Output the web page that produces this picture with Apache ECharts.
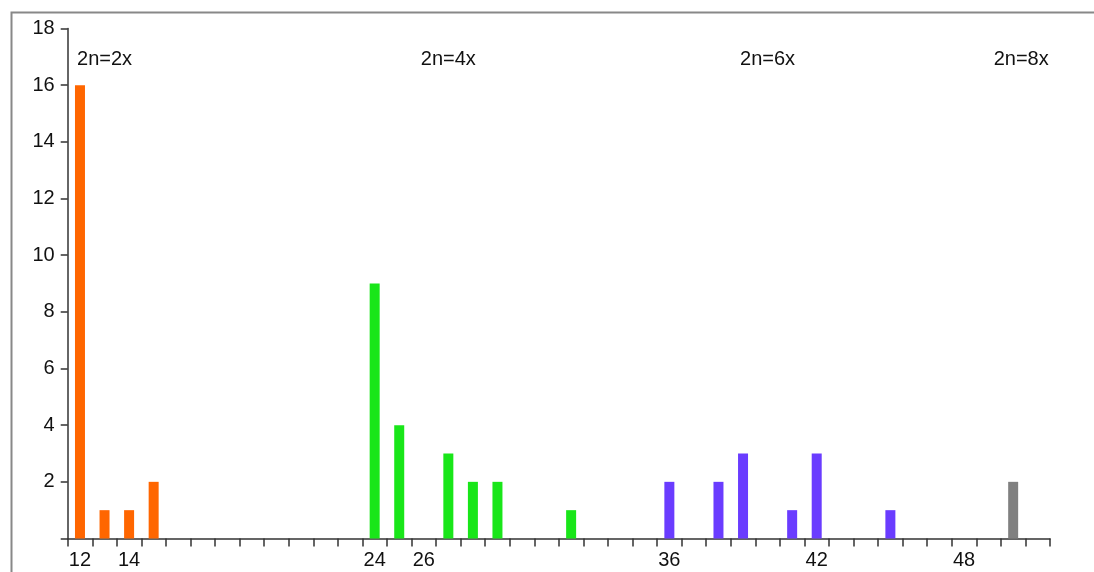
<!DOCTYPE html>
<html>
<head>
<meta charset="utf-8">
<script src="https://cdn.jsdelivr.net/npm/echarts@6/dist/echarts.min.js"></script>
<style>
  html, body { margin: 0; padding: 0; background: #ffffff; }
  #chart { width: 1094px; height: 572px; }
</style>
</head>
<body>
<div id="chart"></div>
<script>
// Chromosome counts (2n) from 12 to 51
const categories = [];
for (let n = 12; n <= 51; n++) categories.push(String(n));

// Only these x tick labels are printed
const shownTickLabels = ['12', '14', '24', '26', '36', '42', '48'];

// Number of taxa per chromosome count, grouped by ploidy level
const diploid   = [['12', 16], ['13', 1], ['14', 1], ['15', 2]];
const tetraploid = [['24', 9], ['25', 4], ['27', 3], ['28', 2], ['29', 2], ['32', 1]];
const hexaploid = [['36', 2], ['38', 2], ['39', 3], ['41', 1], ['42', 3], ['45', 1]];
const octoploid = [['50', 2]];

// Ploidy headings and the count they sit above
const ploidyLabels = ['2n=2x', '2n=4x', '2n=6x', '2n=8x'];
const ploidyLabelAt = ['13', '27', '40', '50'];
const ploidyLabelY = 17;

const colors = ['#ff6600', '#19e619', '#6a3cff', '#808080'];
const font = 'Liberation Sans, Arial, sans-serif';
const textColor = '#111111';

const chart = echarts.init(document.getElementById('chart'));

function barSeries(data, color) {
  return {
    type: 'bar',
    stack: 'count',
    barWidth: 10,
    data: data,
    itemStyle: { color: color },
    silent: true
  };
}

chart.setOption({
  animation: false,
  graphic: [{
    type: 'rect',
    shape: { x: 11.5, y: 12.5, width: 1200, height: 700 },
    style: { fill: 'none', stroke: '#888888', lineWidth: 2 },
    silent: true
  }],
  grid: { left: 67.7, right: 44, top: 28.5, bottom: 33.5 },
  xAxis: {
    type: 'category',
    data: categories,
    boundaryGap: true,
    axisLine: { lineStyle: { color: '#333333', width: 1.5 } },
    axisTick: { show: true, length: 8, interval: 0, lineStyle: { color: '#333333', width: 1.5 } },
    axisLabel: {
      interval: 0,
      margin: 12,
      color: textColor,
      fontFamily: font,
      fontSize: 20,
      formatter: v => shownTickLabels.includes(v) ? v : ''
    },
    splitLine: { show: false }
  },
  yAxis: {
    type: 'value',
    min: 0,
    max: 18,
    interval: 2,
    axisLine: { show: true, lineStyle: { color: '#333333', width: 1.5 } },
    axisTick: { show: true, length: 7, lineStyle: { color: '#333333', width: 1.5 } },
    axisLabel: {
      margin: 13,
      color: textColor,
      fontFamily: font,
      fontSize: 20,
      formatter: v => v === 0 ? '' : String(v)
    },
    splitLine: { show: false }
  },
  series: [
    barSeries(diploid, colors[0]),
    barSeries(tetraploid, colors[1]),
    barSeries(hexaploid, colors[2]),
    barSeries(octoploid, colors[3]),
    {
      type: 'scatter',
      symbolSize: 0,
      silent: true,
      data: ploidyLabels.map((t, i) => ({
        value: [ploidyLabelAt[i], ploidyLabelY],
        name: t,
        label: { offset: [i === 3 ? 8 : 0, 3] }
      })),
      label: {
        show: true,
        position: 'inside',
        formatter: p => p.name,
        color: textColor,
        textBorderWidth: 0,
        textBorderColor: 'transparent',
        opacity: 1,
        fontFamily: font,
        fontSize: 20
      }
    }
  ]
});
</script>
</body>
</html>
